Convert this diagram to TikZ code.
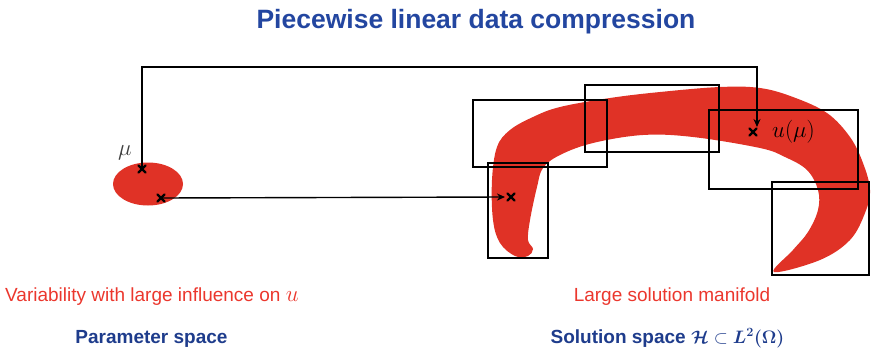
\RequirePackage{fix-cm}
\documentclass[tikz,border=0pt]{standalone}
\usepackage{fontspec}
\setmainfont{Liberation Sans}
\usepackage{amsmath,bm}
\usetikzlibrary{arrows.meta,calc}
\definecolor{manired}{RGB}{224,50,38}
\definecolor{titleblue}{RGB}{35,70,160}
\definecolor{labblue}{RGB}{30,60,140}
\definecolor{txtred}{RGB}{235,55,45}
\tikzset{
  xmark/.style={draw=black,line width=2.3pt,line cap=round},
  cover/.style={draw=black,line width=2pt},
  conn/.style={draw=black,line width=1.4pt,-{Stealth[length=8pt,width=7pt]}},
  lab/.style={font=\fontsize{19}{22}\selectfont,anchor=base,inner sep=0pt},
}
\newcommand{\xmk}[1]{\draw[xmark] ($(#1)+(-3.5,-3.5)$) -- ($(#1)+(3.5,3.5)$) ($(#1)+(-3.5,3.5)$) -- ($(#1)+(3.5,-3.5)$);}
\newcommand{\bigmath}[1]{{\fontsize{23}{24}\selectfont$#1$}}
\newcommand{\midmath}[1]{{\fontsize{18}{20}\selectfont$#1$}}
\begin{document}
\begin{tikzpicture}[x=1pt,y=-1pt]
\useasboundingbox (0,0) rectangle (871,348);
% title
\node[font=\bfseries\fontsize{26.5}{30}\selectfont,text=titleblue,anchor=base,inner sep=0pt] (title) at (476,28) {Piecewise linear data compression};
% parameter ellipse
\fill[manired] (148,184) ellipse[x radius=35,y radius=21.5];
% manifold
\fill[manired] plot[smooth cycle,tension=0.6] coordinates {
(500,243) (493,220) (492,180) (497,147) (510,130) (533,117) (560,107) (610,98) (660,92) (720,87) (760,88) (793,97) (827,113) (850,137) (863,163) (870,190) (865,213) (850,240) (820,260) (774,272)
(793,250) (808,232) (818,210) (818,190) (807,170) (785,157) (760,148) (693,137) (643,135) (593,143) (560,155) (543,168) (537,187) (530,220) (528,240) (533,249) (528,256) (515,256)};
% cover boxes
\node[cover,minimum width=134pt,minimum height=67pt,inner sep=0pt] (b1) at (540,133.5) {};
\node[cover,minimum width=134pt,minimum height=67pt,inner sep=0pt] (b2) at (652,118.5) {};
\node[cover,minimum width=149pt,minimum height=79pt,inner sep=0pt] (b3) at (783.5,149.5) {};
\node[cover,minimum width=97pt,minimum height=93pt,inner sep=0pt] (b4) at (820.5,228.5) {};
\node[cover,minimum width=60pt,minimum height=95pt,inner sep=0pt] (b5) at (518,210.5) {};
% points
\coordinate (mu) at (142,169);
\coordinate (p2) at (161,198);
\coordinate (umu) at (753,132);
\coordinate (q2) at (511,197);
\coordinate (corner1) at (142,67);
\coordinate (corner2) at (757,67);
\coordinate (tip1) at (757,127);
\coordinate (tip2) at (505,197);
\draw[conn] (mu) -- (corner1) -- (corner2) -- (tip1);
\draw[conn] (p2) -- (tip2);
\xmk{mu}
\xmk{p2}
\xmk{umu}
\xmk{q2}
\node[inner sep=0pt,text=black!75] (mulab) at (125,153) {\bigmath{\mu}};
\node[inner sep=0pt,anchor=west] (umulab) at (772,132) {\bigmath{u(\mu)}};
% labels
\node[lab,text=txtred,anchor=base west] (var) at (5,301) {Variability with large influence on \bigmath{u}};
\node[lab,text=txtred] (large) at (672,301) {Large solution manifold};
\node[lab,font=\bfseries\fontsize{19}{22}\selectfont,text=labblue] (param) at (151.5,343) {Parameter space};
\node[lab,font=\bfseries\fontsize{19}{22}\selectfont,text=labblue] (sol) at (667.5,343) {Solution space \midmath{\bm{\mathcal{H}}\subset \bm{L^2(\Omega)}}};
\end{tikzpicture}
\end{document}
